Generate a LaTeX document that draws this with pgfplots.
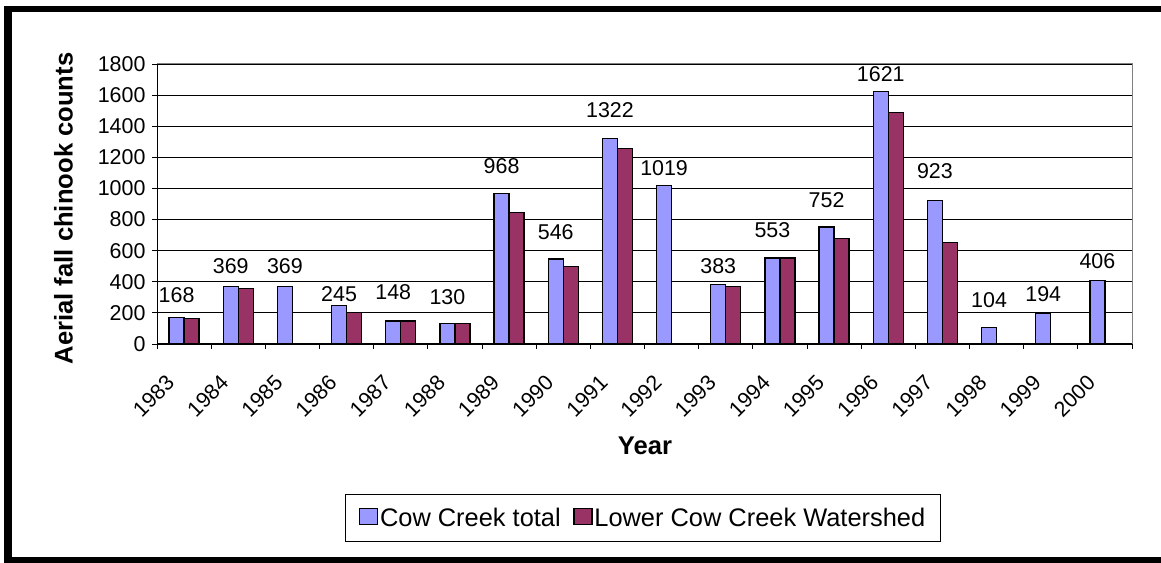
\documentclass[border=0pt]{standalone}
\usepackage{pgfplots}
\pgfplotsset{compat=1.18}
\usepackage{pgfplotstable}
\usepackage{fontspec}
\setmainfont{Liberation Sans}
\definecolor{cowblue}{HTML}{9999FF}
\definecolor{cowmaroon}{HTML}{993366}
\definecolor{plotgray}{HTML}{808080}

\pgfplotstableread{
x y
0 168
1 369
2 369
3 245
4 148
5 130
6 968
7 546
8 1322
9 1019
10 383
11 553
12 752
13 1621
14 923
15 104
16 194
17 406
}\totaltable

\pgfplotstableread{
x y
0 166
1 358
3 204
4 148
5 130
6 846
7 500
8 1257
10 370
11 553
12 680
13 1490
14 655
}\lowertable

\pgfplotstableread{
x ypos lab
-0.1385 264 168
0.8615 456 369
1.8615 456 369
2.8615 272 245
3.8615 283 148
4.8615 257 130
5.8615 1099 968
6.8615 673 546
7.8615 1455 1322
8.8615 1080 1019
9.8615 454 383
10.8615 683 553
11.8615 876 752
12.8615 1686 1621
13.8615 1061 923
14.8615 236 104
15.8615 272 194
16.8615 487 406
}\labeltable

\begin{document}
\begin{tikzpicture}[x=1bp,y=1bp]
\useasboundingbox (0,0) rectangle (1161,563);
\fill[black] (4,0) rectangle (12,557);
\fill[black] (4,551) rectangle (1161,557);
\fill[black] (4,0) rectangle (1161,5.5);
\begin{axis}[
  at={(157bp,219bp)}, anchor=south west,
  scale only axis, width=975bp, height=280bp,
  xmin=-0.5, xmax=17.5, ymin=0, ymax=1800,
  ytick={0,200,...,1800},
  xtick={0,...,17},
  xticklabels={1983,1984,1985,1986,1987,1988,1989,1990,1991,1992,1993,1994,1995,1996,1997,1998,1999,2000},
  minor xtick={-0.5,0.5,...,17.5},
  major x tick style={draw=none},
  minor tick length=5bp,
  major tick length=5bp,
  tick align=outside,
  tick pos=left,
  tick style={black, line width=0.8bp},
  ymajorgrids, major grid style={black, line width=0.8bp},
  axis line style={plotgray, line width=1bp},
  /pgf/number format/assume math mode=true,
  /pgf/number format/1000 sep={},
  ticklabel style={font=\fontsize{21.5}{25}\selectfont},
  yticklabel style={xshift=-3bp},
  xticklabel style={xshift=-19bp, yshift=-20bp, rotate=45, anchor=north east},
  xlabel={Year},
  ylabel={Aerial fall chinook counts},
  xlabel style={font=\bfseries\fontsize{25.7}{30}\selectfont, at={(axis description cs:0.5005,-0.396)}, anchor=base},
  ylabel style={font=\bfseries\fontsize{25.7}{30}\selectfont, at={(axis description cs:-0.096,0.484)}, anchor=center},
  legend columns=2,
  legend style={at={(0.4985,-0.621)}, anchor=center, draw=black, line width=0.8bp,
    font=\fontsize{25.5}{30}\selectfont, inner xsep=13.5bp, inner ysep=11.5bp,
    nodes={inner xsep=1.7bp, inner ysep=2bp},
    /tikz/every even column/.append style={column sep=11bp}},
  legend image code/.code={\draw[#1, line width=1.2bp] (0bp,-7bp) rectangle (18bp,9bp);},
  after end axis/.code={\draw[black, line width=1bp] (rel axis cs:0,1) -- (rel axis cs:0,0) -- (rel axis cs:1,0);},
]
\addplot[ybar, bar width=15bp, bar shift=-7.5bp, fill=cowblue, draw=black, line width=1.2bp] table[x=x,y=y] {\totaltable};
\addlegendentry{Cow Creek total}
\addplot[ybar, bar width=15bp, bar shift=7.5bp, fill=cowmaroon, draw=black, line width=1.2bp] table[x=x,y=y] {\lowertable};
\addlegendentry{Lower Cow Creek Watershed}
\addplot[forget plot, only marks, mark=none, point meta=explicit symbolic,
  nodes near coords={\pgfplotspointmeta},
  nodes near coords style={anchor=base, inner sep=0pt, font=\fontsize{21.5}{25}\selectfont}]
  table[x=x, y=ypos, meta=lab] {\labeltable};
\end{axis}
\end{tikzpicture}
\end{document}
